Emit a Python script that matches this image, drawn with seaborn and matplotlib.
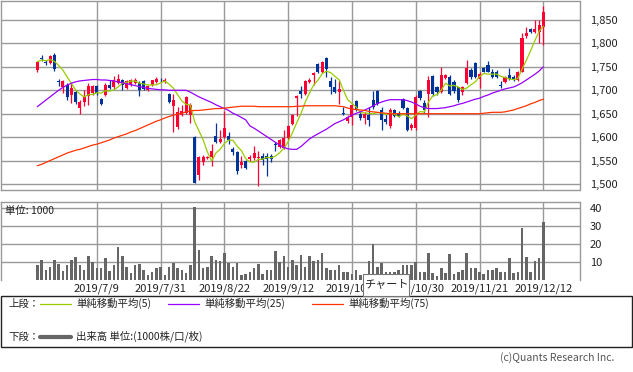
import numpy as np
import pandas as pd
import matplotlib
matplotlib.use('Agg')
import matplotlib.pyplot as plt
import seaborn as sns
from matplotlib.patches import Rectangle
from matplotlib.lines import Line2D

# ---- data (6/19 .. 12/12, 2019) ----
holidays = ['2019-07-15', '2019-08-12', '2019-09-16', '2019-09-23',
            '2019-10-14', '2019-10-22', '2019-11-04']
tick_labels = ['2019/7/9', '2019/7/31', '2019/8/22', '2019/9/12',
               '2019/10/7', '2019/10/30', '2019/11/21', '2019/12/12']

open_ = [1743, 1769, 1761, 1759, 1776, 1720, 1706, 1711, 1689, 1696,
         1662, 1676, 1687, 1694, 1710, 1682, 1691, 1712, 1706, 1716,
         1721, 1705, 1712, 1716, 1716, 1719, 1701, 1711, 1717, 1723,
         1718, 1692, 1666, 1621, 1648, 1651, 1647, 1601, 1519, 1546,
         1556, 1557, 1603, 1589, 1600, 1603, 1575, 1568, 1541, 1549,
         1553, 1555, 1556, 1560, 1559, 1559, 1585, 1579, 1577, 1599,
         1628, 1684, 1699, 1693, 1718, 1732, 1757, 1739, 1768, 1720,
         1706, 1696, 1652, 1634, 1643, 1677, 1650, 1641, 1647, 1679,
         1699, 1659, 1639, 1623, 1657, 1651, 1682, 1663, 1620, 1619,
         1699, 1673, 1692, 1730, 1706, 1697, 1726, 1728, 1718, 1706,
         1697, 1716, 1743, 1759, 1725, 1747, 1754, 1740, 1740, 1712,
         1718, 1733, 1729, 1722, 1740, 1815, 1830, 1825, 1825, 1836]
high = [1763, 1776, 1765, 1776, 1780, 1724, 1722, 1715, 1716, 1701,
        1680, 1701, 1716, 1712, 1712, 1684, 1715, 1723, 1730, 1734,
        1725, 1722, 1724, 1727, 1719, 1721, 1711, 1723, 1729, 1727,
        1726, 1694, 1693, 1665, 1669, 1687, 1672, 1603, 1560, 1562,
        1560, 1586, 1631, 1616, 1655, 1610, 1578, 1570, 1560, 1551,
        1562, 1582, 1570, 1567, 1566, 1563, 1590, 1596, 1615, 1626,
        1650, 1690, 1710, 1722, 1726, 1740, 1759, 1763, 1772, 1729,
        1725, 1721, 1664, 1647, 1670, 1679, 1654, 1653, 1665, 1699,
        1701, 1665, 1649, 1662, 1660, 1655, 1684, 1665, 1630, 1690,
        1701, 1680, 1730, 1733, 1710, 1750, 1735, 1732, 1722, 1708,
        1710, 1765, 1747, 1761, 1738, 1750, 1763, 1745, 1743, 1720,
        1731, 1747, 1732, 1742, 1822, 1834, 1832, 1850, 1850, 1880]
low = [1740, 1762, 1755, 1757, 1741, 1709, 1694, 1680, 1673, 1670,
       1650, 1667, 1669, 1690, 1690, 1668, 1688, 1702, 1703, 1713,
       1700, 1703, 1709, 1714, 1687, 1700, 1699, 1709, 1715, 1718,
       1716, 1672, 1612, 1618, 1645, 1649, 1630, 1503, 1509, 1540,
       1553, 1539, 1587, 1587, 1598, 1585, 1562, 1521, 1535, 1532,
       1550, 1552, 1496, 1540, 1517, 1548, 1571, 1576, 1574, 1595,
       1626, 1646, 1684, 1690, 1716, 1712, 1736, 1737, 1729, 1693,
       1694, 1670, 1648, 1631, 1626, 1655, 1637, 1627, 1623, 1661,
       1668, 1616, 1629, 1620, 1643, 1642, 1660, 1614, 1616, 1616,
       1680, 1651, 1644, 1688, 1690, 1695, 1724, 1690, 1695, 1675,
       1690, 1714, 1725, 1726, 1704, 1738, 1738, 1727, 1727, 1705,
       1716, 1721, 1720, 1720, 1738, 1812, 1823, 1822, 1800, 1797]
close = [1761, 1768, 1760, 1774, 1746, 1718, 1719, 1686, 1705, 1676,
         1676, 1686, 1709, 1709, 1694, 1671, 1712, 1705, 1723, 1724,
         1712, 1719, 1721, 1723, 1701, 1703, 1709, 1721, 1724, 1722,
         1723, 1675, 1680, 1653, 1655, 1686, 1669, 1503, 1557, 1557,
         1557, 1571, 1589, 1596, 1619, 1594, 1568, 1527, 1548, 1534,
         1558, 1566, 1557, 1551, 1553, 1553, 1583, 1594, 1598, 1624,
         1648, 1688, 1692, 1720, 1721, 1736, 1739, 1761, 1746, 1707,
         1696, 1702, 1650, 1644, 1668, 1657, 1641, 1650, 1637, 1664,
         1670, 1637, 1632, 1657, 1646, 1646, 1663, 1616, 1625, 1686,
         1683, 1658, 1723, 1692, 1697, 1732, 1732, 1693, 1699, 1679,
         1706, 1747, 1729, 1728, 1735, 1740, 1740, 1729, 1729, 1710,
         1729, 1724, 1722, 1740, 1811, 1822, 1825, 1830, 1839, 1868]
# volume, unit 1000
volume = [8.0, 11.3, 5.4, 7.4, 11.3, 9.1, 4.8, 8.5, 11.3, 13.0,
          8.5, 5.7, 13.5, 9.8, 6.3, 6.3, 12.4, 4.8, 8.5, 18.5,
          13.5, 6.9, 3.5, 8.0, 9.1, 5.2, 2.4, 4.1, 6.3, 6.9,
          2.4, 7.4, 9.6, 6.3, 5.7, 3.7, 8.0, 40.7, 16.9, 6.3,
          6.9, 13.5, 11.3, 10.7, 15.2, 9.6, 6.9, 9.6, 2.4, 3.0,
          4.1, 6.3, 9.1, 3.0, 5.7, 5.4, 16.3, 10.2, 13.5, 7.4,
          11.3, 8.0, 14.1, 7.4, 13.5, 10.7, 11.3, 15.2, 6.3, 5.2,
          5.7, 8.0, 4.1, 4.1, 3.0, 5.2, 2.4, 2.0, 10.7, 19.8,
          6.9, 9.6, 4.6, 4.6, 4.6, 5.7, 8.0, 8.5, 8.0, 10.2,
          4.1, 4.1, 15.2, 3.5, 1.9, 6.3, 3.5, 14.6, 3.0, 4.6,
          5.7, 15.2, 6.3, 6.3, 4.6, 3.0, 5.2, 5.7, 6.3, 4.6,
          4.1, 12.4, 3.5, 4.6, 29.1, 13.0, 4.1, 10.7, 12.4, 32.4]
# 25 / 75 day lines as drawn (they start before the window)
ma25 = [1665, 1672, 1679, 1686, 1693, 1700, 1706, 1711, 1715, 1718,
        1720, 1721, 1722, 1723, 1723, 1722, 1722, 1721, 1720, 1718,
        1716, 1714, 1712, 1710, 1708, 1706, 1704, 1703, 1702, 1701,
        1701, 1700, 1700, 1700, 1700, 1700, 1696, 1691, 1686, 1682,
        1678, 1674, 1669, 1665, 1661, 1657, 1651, 1647, 1642, 1637,
        1624, 1619, 1613, 1607, 1601, 1595, 1589, 1583, 1578, 1575,
        1574, 1574, 1580, 1588, 1596, 1602, 1607, 1612, 1617, 1623,
        1629, 1633, 1637, 1642, 1647, 1651, 1654, 1658, 1662, 1667,
        1672, 1675, 1678, 1680, 1680, 1680, 1680, 1678, 1675, 1671,
        1666, 1663, 1661, 1661, 1661, 1662, 1663, 1665, 1667, 1670,
        1672, 1675, 1678, 1681, 1683, 1687, 1690, 1694, 1697, 1700,
        1703, 1705, 1707, 1711, 1716, 1722, 1728, 1734, 1741, 1750]
ma75 = [1539, 1542, 1546, 1550, 1554, 1558, 1562, 1566, 1569, 1572,
        1574, 1577, 1580, 1583, 1585, 1588, 1591, 1594, 1598, 1601,
        1604, 1607, 1611, 1614, 1618, 1622, 1626, 1630, 1634, 1637,
        1641, 1644, 1647, 1649, 1651, 1654, 1656, 1657, 1657, 1658,
        1659, 1660, 1661, 1661, 1662, 1663, 1664, 1665, 1666, 1666,
        1666, 1666, 1665, 1665, 1665, 1665, 1665, 1665, 1665, 1665,
        1665, 1666, 1666, 1667, 1667, 1667, 1667, 1667, 1667, 1667,
        1667, 1666, 1665, 1662, 1660, 1659, 1658, 1657, 1655, 1654,
        1653, 1652, 1651, 1650, 1650, 1650, 1650, 1650, 1650, 1650,
        1650, 1650, 1650, 1650, 1650, 1650, 1650, 1650, 1650, 1650,
        1650, 1650, 1650, 1650, 1650, 1651, 1652, 1653, 1653, 1653,
        1654, 1656, 1658, 1661, 1664, 1667, 1671, 1674, 1678, 1681]

UP, DOWN = '#ff0033', '#003399'
GRID = '#999999'

# ---- frame ----
dates = pd.bdate_range('2019-06-19', '2019-12-12')
dates = dates[~dates.isin(pd.to_datetime(holidays))]
df = pd.DataFrame({'date': dates, 'open': open_, 'high': high, 'low': low,
                   'close': close, 'volume': volume, 'ma25': ma25, 'ma75': ma75})
df['x'] = np.arange(len(df))
df['ma5'] = df['close'].rolling(5, min_periods=1).mean()
df['label'] = [f"{d.year}/{d.month}/{d.day}" for d in df['date']]
df['up'] = df['close'] >= df['open']
tick_pos = df.loc[df['label'].isin(tick_labels), 'x'].tolist()
tick_txt = df.loc[df['label'].isin(tick_labels), 'label'].tolist()

sns.set_theme(style='white')
plt.rcParams['font.family'] = ['Noto Sans CJK JP', 'DejaVu Sans']

W, H = 633, 372
fig = plt.figure(figsize=(W / 100, H / 100), dpi=100)
fig.patch.set_facecolor('white')


def px_rect(x0, y0, x1, y1):
    return [x0 / W, 1 - y1 / H, (x1 - x0) / W, (y1 - y0) / H]


def fx(x):
    return x / W


def fy(y):
    return 1 - y / H


ax = fig.add_axes(px_rect(0.5, 0.5, 579.5, 190))
axv = fig.add_axes(px_rect(0.5, 201.7, 579.5, 279.7))

x0 = (0.5 - 37.3) / 4.252
x1 = (579.5 - 37.3) / 4.252

# ---- price panel ----
for a in (ax, axv):
    a.set_axisbelow(True)
    a.set_facecolor('white')
    for s in a.spines.values():
        s.set_color(GRID)
        s.set_linewidth(1.0)
axv.spines['bottom'].set_visible(False)

price_ticks = list(range(1500, 1851, 50))
ax.set_yticks(price_ticks)
ax.set_yticklabels([f"{v:,}" for v in price_ticks])
ax.set_xticks(tick_pos)
ax.set_xticklabels([])
ax.grid(True, color=GRID, lw=1.0)
ax.yaxis.tick_right()
ax.tick_params(axis='y', length=0, pad=7.5, labelsize=8, labelcolor='#222222')
ax.tick_params(axis='x', length=0)

colors = np.where(df['up'], UP, DOWN)
ax.vlines(df['x'], df['low'], df['high'], colors=colors, lw=0.9, zorder=3)
body_lo = np.minimum(df['open'], df['close'])
body_h = np.maximum(np.abs(df['close'] - df['open']), 1.6)
ax.bar(df['x'], body_h, bottom=body_lo - np.where(body_h == 1.6, 0.8, 0),
       width=0.72, color=colors, lw=0, zorder=3)

sns.lineplot(data=df, x='x', y='ma5', ax=ax, color='#99cc00', lw=0.9, zorder=4)
sns.lineplot(data=df, x='x', y='ma25', ax=ax, color='#9900ff', lw=0.9, zorder=4)
sns.lineplot(data=df, x='x', y='ma75', ax=ax, color='#ff3300', lw=0.9, zorder=4)
ax.set_xlim(x0, x1)
ax.set_ylim(1850 - (190 - 20) * 2.134, 1850 + (20 - 0.5) * 2.134)
ax.set_xlabel('')
ax.set_ylabel('')

# ---- volume panel ----
sns.barplot(data=df, x='x', y='volume', ax=axv, color='#666666',
            native_scale=True, width=0.6, errorbar=None, saturation=1,
            linewidth=0)
axv.set_xlim(x0, x1)
axv.set_ylim(0, 78 / 1.78)
axv.set_yticks([10, 20, 30, 40])
axv.set_xticks(tick_pos)
axv.set_xticklabels(tick_txt)
axv.grid(True, color=GRID, lw=1.0)
axv.yaxis.tick_right()
axv.tick_params(axis='y', length=0, pad=7.5, labelsize=8, labelcolor='#222222')
axv.tick_params(axis='x', length=0, pad=2.5, labelsize=8, labelcolor='#222222')
axv.set_xlabel('')
axv.set_ylabel('')
axv.text(0.008, 0.875, '単位: 1000', transform=axv.transAxes, fontsize=7.5,
         color='#222222', va='center', ha='left')

# ---- legend box ----
fig.add_artist(Rectangle((fx(0.5), fy(347)), fx(631.5), (347 - 296) / H,
                         transform=fig.transFigure, fill=False,
                         edgecolor='#222222', lw=1.0))
row1, row2 = 303.5, 336.5
fig.text(fx(8), fy(row1), '上段：', fontsize=7.5, va='center', color='#222222')
fig.text(fx(8), fy(row2), '下段：', fontsize=7.5, va='center', color='#222222')
for lx, col, txt in [(40, '#99cc00', '単純移動平均(5)'),
                     (168, '#9900ff', '単純移動平均(25)'),
                     (312, '#ff3300', '単純移動平均(75)')]:
    fig.add_artist(Line2D([fx(lx), fx(lx + 31)], [fy(row1), fy(row1)],
                          transform=fig.transFigure, color=col, lw=0.9))
    fig.text(fx(lx + 36), fy(row1), txt, fontsize=7.5, va='center', color='#222222')
fig.add_artist(Line2D([fx(40), fx(71)], [fy(row2), fy(row2)],
                      transform=fig.transFigure, color='#666666', lw=3))
fig.text(fx(76), fy(row2), '出来高 単位:(1000株/口/枚)', fontsize=7.5,
         va='center', color='#222222')
fig.text(fx(614), fy(358), '(c)Quants Research Inc.', fontsize=7.5,
         ha='right', va='center', color='#555555')

# browser tooltip captured in the screenshot
fig.add_artist(Rectangle((fx(363.3), fy(295.5)), (409.3 - 363.3) / W, (295.5 - 274.3) / H,
                         transform=fig.transFigure, facecolor='white',
                         edgecolor='#777777', lw=0.8, zorder=10))
fig.text(fx(386.3), fy(285), 'チャート', fontsize=8, ha='center', va='center',
         color='#222222', zorder=11)

fig.savefig('out.png', dpi=100)
